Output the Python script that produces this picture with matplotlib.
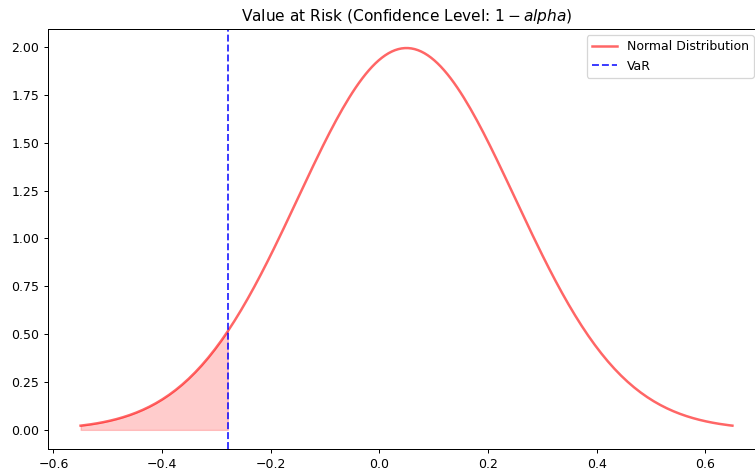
import numpy as np
import matplotlib
matplotlib.use("Agg")
import matplotlib.pyplot as plt

# values
mu = 0.05          # centre of the bell curve
sigma = 0.2        # peak ~2.0 -> 1/(sigma*sqrt(2pi))
z_alpha = 1.645    # VaR line sits at ~-0.279
n_sd = 3           # curve runs from -0.55 to 0.65


def norm_pdf(v):
    return np.exp(-0.5 * ((v - mu) / sigma) ** 2) / (sigma * np.sqrt(2 * np.pi))


x = np.linspace(mu - n_sd * sigma, mu + n_sd * sigma, 200)
pdf = norm_pdf(x)
var = mu - z_alpha * sigma

dpi = 90
fig = plt.figure(figsize=(755 / dpi, 473 / dpi), dpi=dpi)
# axes runs past the right edge, like the cropped reference
ax = fig.add_axes([48 / 755, 1 - 449 / 473, 717 / 755, 420 / 473])

ax.plot(x, pdf, 'r-', lw=2, alpha=0.6, label='Normal Distribution')
ax.axvline(var, color='b', linestyle='--', alpha=0.8, label='VaR')
x_tail = np.append(x[x < var], var)
ax.fill_between(x_tail, norm_pdf(x_tail), color='r', alpha=0.2)

ax.set_title('Value at Risk (Confidence Level: $1 - alpha$)', fontsize=12.3)
ax.legend(loc='upper right', bbox_to_anchor=(0.993, 1.0))

fig.savefig('out.png', dpi=dpi)
